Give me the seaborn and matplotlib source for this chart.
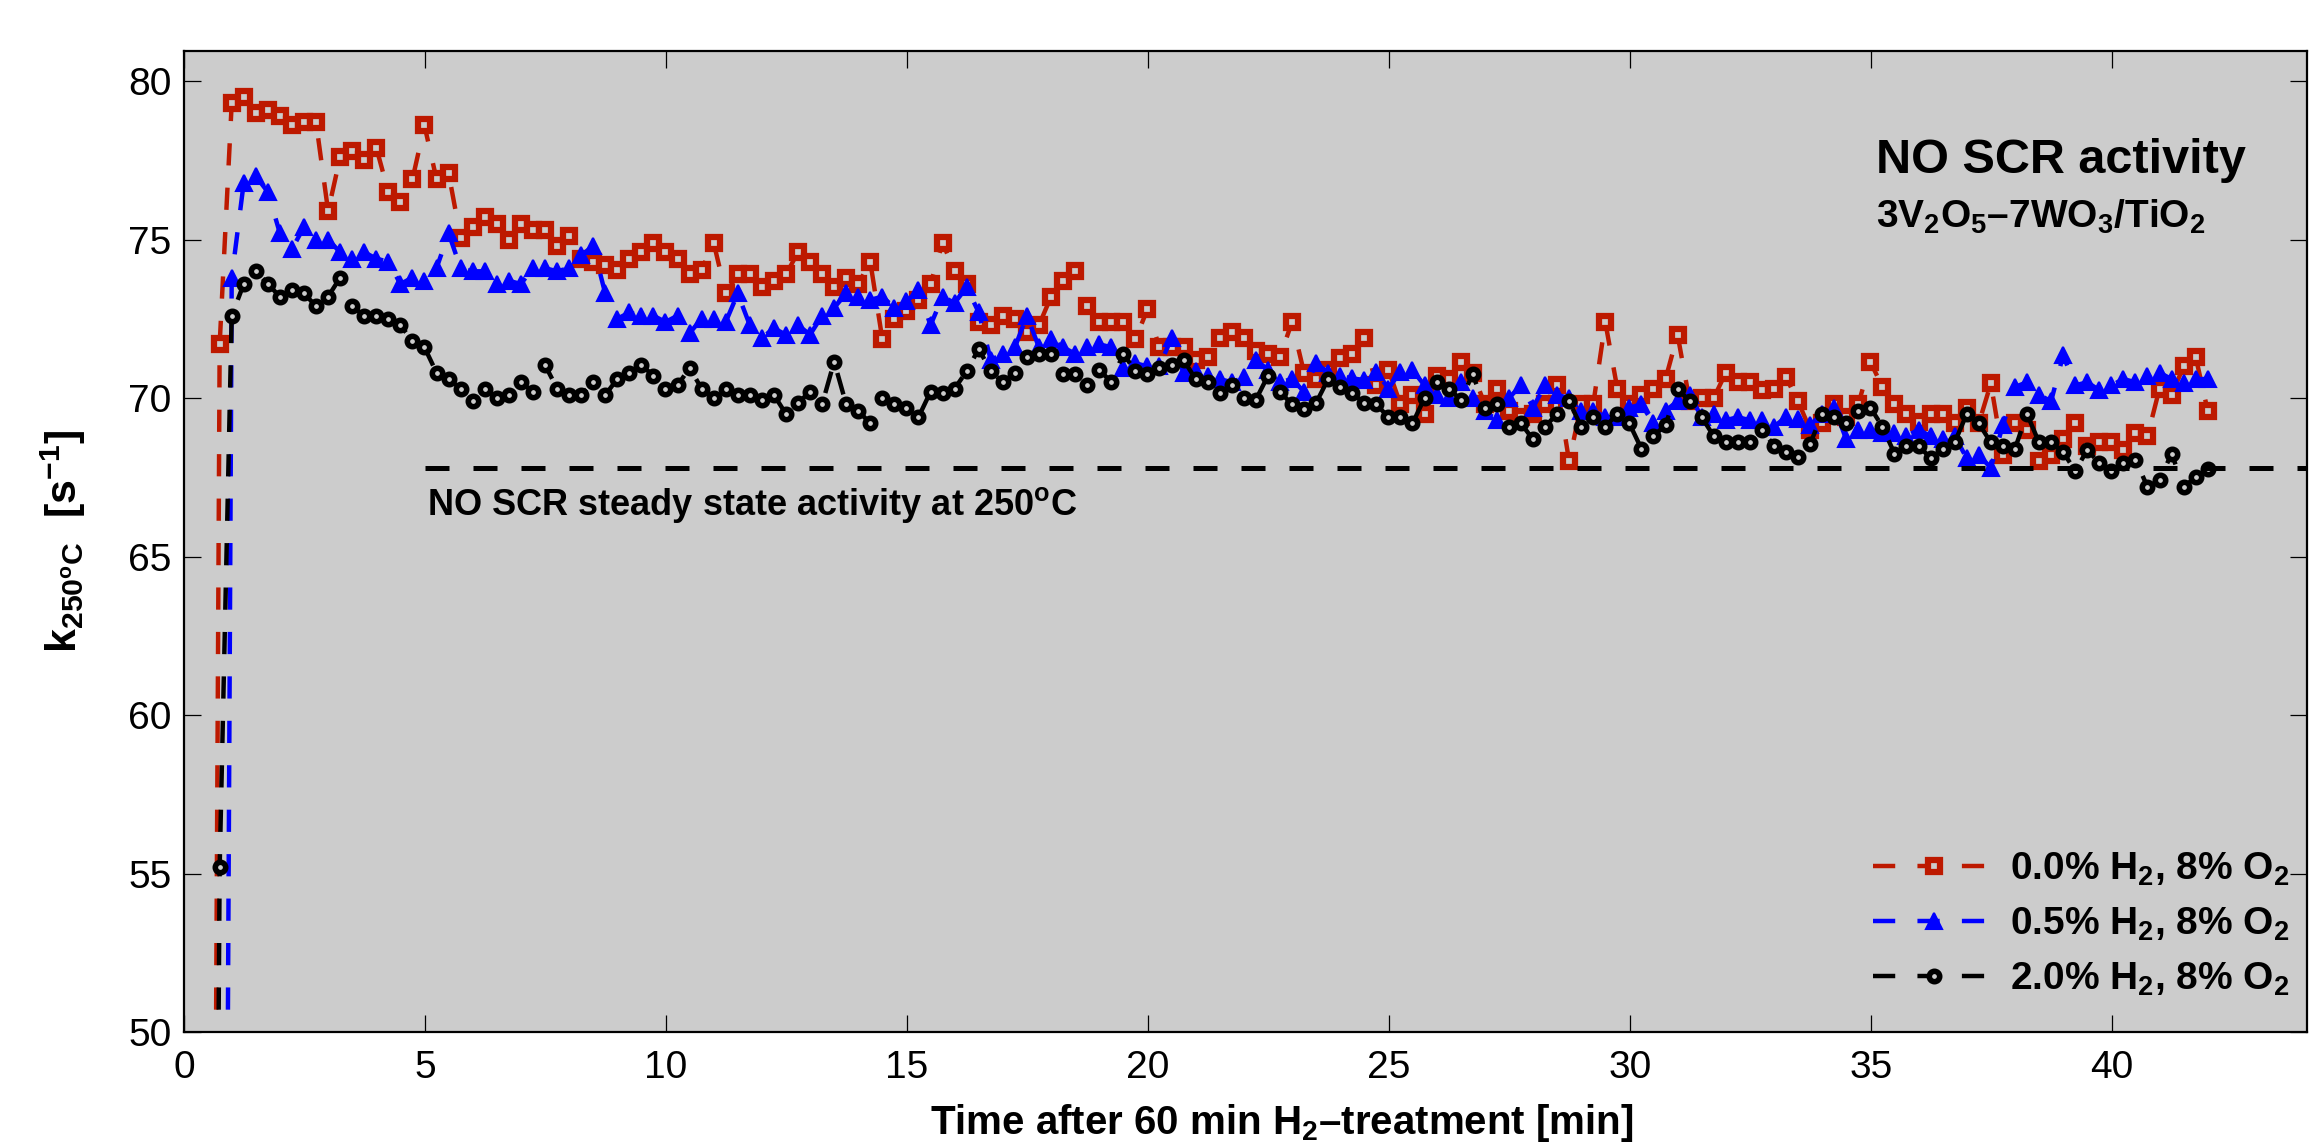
import numpy as np
import pandas as pd
import matplotlib
matplotlib.use('Agg')
import matplotlib.pyplot as plt
import seaborn as sns

# ---- data ----
# sampling: one point every 0.25 min, first point lies below the plotted range
T0 = 0.49
DT = 0.25

h2_00 = [0.0,
         71.7, 79.3, 79.5, 79.0, 79.1, 78.9, 78.6, 78.7, 78.7, 75.9,
         77.6, 77.8, 77.5, 77.9, 76.5, 76.2, 76.9, 78.6, 76.9, 77.1,
         75.05, 75.4, 75.7, 75.5, 75.0, 75.5, 75.3, 75.3, 74.8, 75.1,
         74.4, 74.3, 74.2, 74.05, 74.4, 74.6, 74.9, 74.6, 74.4, 73.9,
         74.05, 74.9, 73.3, 73.9, 73.9, 73.5, 73.7, 73.9, 74.6, 74.3,
         73.9, 73.5, 73.8, 73.6, 74.3, 71.85, 72.5, 72.75, 73.1, 73.6,
         74.9, 74.0, 73.6, 72.4, 72.3, 72.6, 72.5, 72.1, 72.3, 73.2,
         73.7, 74.0, 72.9, 72.4, 72.4, 72.4, 71.85, 72.8, 71.6, 71.6,
         71.6, 71.2, 71.3, 71.9, 72.1, 71.9, 71.5, 71.4, 71.3, 72.4,
         70.8, 70.6, 70.9, 71.25, 71.4, 71.9, 70.4, 70.9, 69.8, 70.1,
         69.5, 70.7, 70.6, 71.15, 70.8, 69.8, 70.3, 69.6, 69.4, 69.5,
         69.8, 70.4, 68.0, 69.8, 69.8, 72.4, 70.3, 69.8, 70.1, 70.3,
         70.6, 72.0, 69.9, 70.0, 70.0, 70.8, 70.5, 70.5, 70.25, 70.3,
         70.65, 69.9, 69.0, 69.2, 69.8, 69.4, 69.8, 71.15, 70.35, 69.8,
         69.5, 69.25, 69.5, 69.5, 69.2, 69.7, 69.2, 70.46, 68.2, 69.2,
         69.0, 68.0, 68.2, 68.7, 69.2, 68.5, 68.6, 68.6, 68.36, 68.9,
         68.8, 70.3, 70.1, 71.0, 71.3, 69.6]

h2_05 = [0.0,
         0.0, 73.8, 76.8, 77.0, 76.5, 75.2, 74.7, 75.4, 75.0, 75.0,
         74.6, 74.4, 74.6, 74.4, 74.3, 73.6, 73.8, 73.7, 74.1, 75.2,
         74.1, 74.0, 74.0, 73.6, 73.7, 73.6, 74.1, 74.1, 74.0, 74.1,
         74.5, 74.8, 73.3, 72.5, 72.7, 72.6, 72.6, 72.4, 72.6, 72.05,
         72.5, 72.5, 72.4, 73.3, 72.3, 71.9, 72.2, 72.0, 72.3, 72.0,
         72.6, 72.85, 73.3, 73.2, 73.1, 73.2, 72.85, 73.05, 73.4, 72.3,
         73.2, 73.0, 73.5, 72.7, 71.2, 71.4, 71.6, 72.6, 71.6, 71.85,
         71.6, 71.4, 71.6, 71.7, 71.6, 70.95, 71.1, 71.0, 71.0, 71.9,
         70.8, 70.85, 70.7, 70.6, 70.5, 70.65, 71.2, 70.9, 70.5, 70.6,
         70.2, 71.1, 70.8, 70.7, 70.62, 70.57, 70.83, 70.3, 70.83, 70.88,
         70.4, 70.1, 70.0, 70.5, 70.0, 69.6, 69.3, 70.0, 70.4, 69.7,
         70.4, 70.1, 70.0, 69.6, 69.6, 69.4, 69.4, 69.7, 69.8, 69.2,
         69.6, 69.9, 70.1, 69.4, 69.5, 69.3, 69.4, 69.3, 69.3, 69.1,
         69.4, 69.35, 69.15, 69.5, 69.7, 68.7, 69.0, 69.0, 68.9, 68.9,
         68.8, 69.0, 68.8, 68.7, 68.8, 68.1, 68.2, 67.8, 69.15, 70.35,
         70.5, 70.1, 69.9, 71.35, 70.4, 70.5, 70.25, 70.4, 70.6, 70.5,
         70.7, 70.8, 70.6, 70.46, 70.6, 70.6]

h2_20 = [0.0,
         55.2, 72.6, 73.6, 74.0, 73.6, 73.2, 73.4, 73.3, 72.9, 73.2,
         73.8, 72.9, 72.6, 72.6, 72.5, 72.3, 71.8, 71.6, 70.8, 70.6,
         70.3, 69.9, 70.3, 70.0, 70.1, 70.5, 70.2, 71.05, 70.3, 70.1,
         70.1, 70.5, 70.1, 70.6, 70.8, 71.05, 70.7, 70.3, 70.4, 70.95,
         70.3, 70.0, 70.3, 70.1, 70.1, 69.95, 70.1, 69.5, 69.85, 70.2,
         69.8, 71.15, 69.8, 69.6, 69.2, 70.0, 69.8, 69.7, 69.4, 70.2,
         70.15, 70.3, 70.85, 71.55, 70.85, 70.5, 70.8, 71.3, 71.4, 71.4,
         70.75, 70.75, 70.4, 70.9, 70.5, 71.4, 70.85, 70.75, 70.95, 71.05,
         71.2, 70.6, 70.5, 70.15, 70.4, 70.0, 69.95, 70.7, 70.2, 69.8,
         69.65, 69.85, 70.6, 70.36, 70.15, 69.85, 69.8, 69.4, 69.4, 69.2,
         70.0, 70.5, 70.3, 69.95, 70.75, 69.7, 69.8, 69.1, 69.2, 68.7,
         69.1, 69.5, 69.9, 69.1, 69.4, 69.1, 69.5, 69.2, 68.4, 68.8,
         69.15, 70.3, 69.9, 69.4, 68.8, 68.6, 68.6, 68.6, 69.0, 68.5,
         68.3, 68.15, 68.55, 69.5, 69.4, 69.2, 69.6, 69.7, 69.1, 68.25,
         68.5, 68.5, 68.1, 68.4, 68.6, 69.5, 69.2, 68.6, 68.5, 68.4,
         69.5, 68.6, 68.6, 68.3, 67.7, 68.36, 67.96, 67.7, 67.96, 68.06,
         67.2, 67.4, 68.25, 67.2, 67.5, 67.76]

labels = ['0.0% H$_2$, 8% O$_2$', '0.5% H$_2$, 8% O$_2$', '2.0% H$_2$, 8% O$_2$']
steady_k = 67.8      # steady state activity line
steady_from = 5.0

# ---- style ----
sns.set_theme(style='ticks')
plt.rcParams['font.family'] = ['Liberation Sans', 'DejaVu Sans']
plt.rcParams['mathtext.fontset'] = 'custom'
plt.rcParams['mathtext.rm'] = 'Liberation Sans:bold'
plt.rcParams['mathtext.it'] = 'Liberation Sans:bold'
plt.rcParams['mathtext.bf'] = 'Liberation Sans:bold'
plt.rcParams['mathtext.default'] = 'rm'
plt.rcParams['text.color'] = 'black'
plt.rcParams['axes.labelcolor'] = 'black'

gray = '#cccccc'
red = '#bd1900'
blue = '#0000ff'

fig = plt.figure(figsize=(23.1, 11.42), dpi=100)
ax = fig.add_axes([184 / 2310, 1 - 1032 / 1142, (2307 - 184) / 2310, (1032 - 51) / 1142])
ax.set_facecolor(gray)

styles = [
    dict(color=red, marker='s', markersize=8.5, markeredgewidth=4.5,
         markerfacecolor=gray, markeredgecolor=red),
    dict(color=blue, marker='^', markersize=12, markeredgewidth=1.5,
         markerfacecolor=blue, markeredgecolor=blue),
    dict(color='black', marker='o', markersize=7.5, markeredgewidth=4,
         markerfacecolor=gray, markeredgecolor='black'),
]

for vals, lab, st in zip([h2_00, h2_05, h2_20], labels, styles):
    df = pd.DataFrame({'t': T0 + DT * np.arange(len(vals)), 'k': vals})
    sns.lineplot(data=df, x='t', y='k', ax=ax, estimator=None, sort=False,
                 linewidth=3.2, linestyle=(0, (5, 5)), label=lab, **st)

ax.hlines(steady_k, steady_from, 44.05, color='black', linewidth=3.6,
          linestyle=(0, (4.8, 4.8)))
ax.text(steady_from + 0.04, 66.3, 'NO SCR steady state activity at 250$^{o}$C',
        fontsize=26, fontweight='bold', ha='left', va='baseline', color='black')

ax.text(35.1, 77.1, 'NO SCR activity', fontsize=35, fontweight='bold',
        ha='left', va='baseline', color='black')
ax.text(35.1, 75.36, '3V$_2$O$_5$–7WO$_3$/TiO$_2$', fontsize=28,
        fontweight='bold', ha='left', va='baseline', color='black')

ax.set_xlim(0, 44.05)
ax.set_ylim(50, 80.95)
ax.set_xticks(np.arange(0, 45, 5))
ax.set_yticks(np.arange(50, 81, 5))
ax.tick_params(direction='in', length=12, width=0.9, labelsize=28,
               top=True, right=True, colors='black', labelcolor='black')
ax.tick_params(axis='x', pad=13)
ax.tick_params(axis='y', pad=9)
for sp in ax.spines.values():
    sp.set_linewidth(1.6)
    sp.set_color('black')

ax.set_xlabel('Time after 60 min H$_2$–treatment [min]', fontsize=29,
              fontweight='bold', color='black')
ax.xaxis.set_label_coords(0.517, -0.071)
ax.set_ylabel('k$_{250^{o}C}$  [s$^{-1}$]', fontsize=31, fontweight='bold',
              color='black')
ax.yaxis.set_label_coords(-0.045, 0.5)

leg = ax.legend(loc='lower right', bbox_to_anchor=(0.9915, 0.035), frameon=False,
                prop={'weight': 'bold', 'size': 28},
                handlelength=3.1, handletextpad=0.4, labelspacing=0.45,
                borderpad=0, borderaxespad=0)
for t in leg.get_texts():
    t.set_color('black')

fig.savefig('out.png', dpi=100)
